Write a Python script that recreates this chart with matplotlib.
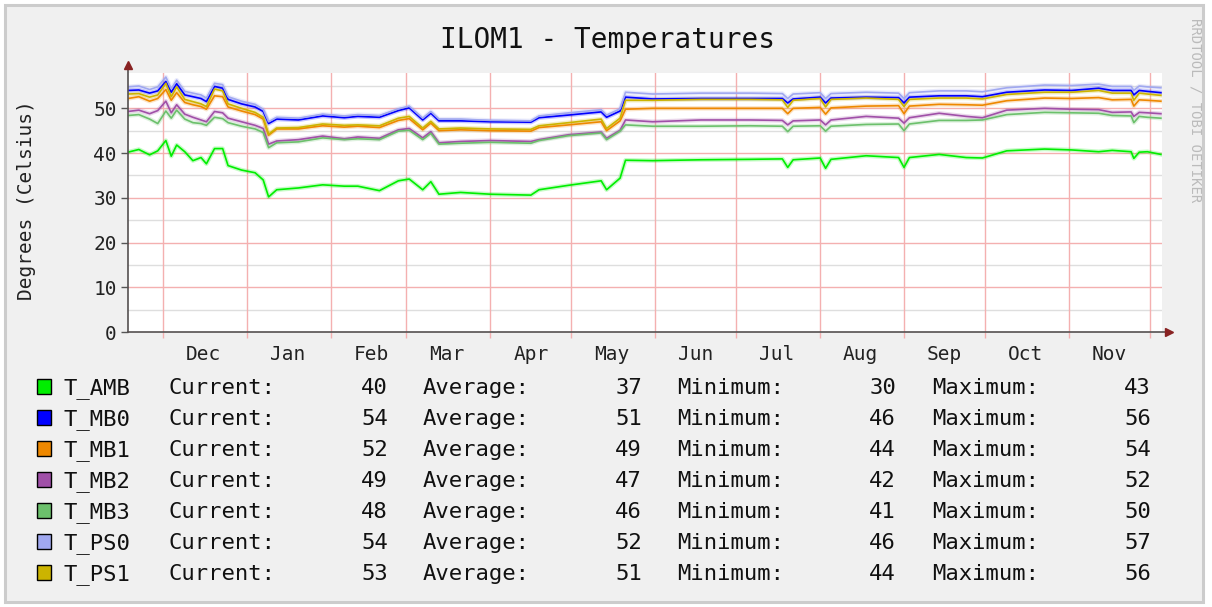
import matplotlib
matplotlib.use('Agg')
import matplotlib.pyplot as plt
import matplotlib.dates as mdates
from matplotlib.patches import Rectangle
import numpy as np

plt.rcParams['font.family'] = 'DejaVu Sans Mono'

W, H = 1212, 607

# ── data (days since 2009-11-18, degrees C) ─────────────────────────────────
start = np.datetime64('2009-11-18')
days = [0, 4, 8, 11, 14, 16, 18, 21, 24, 27, 29, 32, 35, 37, 42, 47, 50, 52,
        55, 63, 72, 80, 85, 93, 100, 104, 109, 112, 115, 123, 134, 149, 152,
        163, 175, 177, 182, 184, 194, 212, 230, 242, 244, 246, 256, 258, 260,
        273, 285, 287, 289, 300, 310, 316, 325, 339, 349, 359, 364, 371, 372,
        374, 377, 382]

t_amb = [40.2, 40.8, 39.6, 40.5, 42.8, 39.3, 41.8, 40.3, 38.3, 39.0, 37.6,
         41.0, 41.0, 37.2, 36.2, 35.6, 34.0, 30.2, 31.8, 32.2, 32.9, 32.6,
         32.6, 31.6, 33.8, 34.2, 31.8, 33.6, 30.8, 31.2, 30.8, 30.6, 31.8,
         32.8, 33.8, 31.8, 34.4, 38.4, 38.3, 38.5, 38.6, 38.7, 36.8, 38.5,
         38.9, 36.6, 38.6, 39.4, 39.0, 36.8, 39.0, 39.7, 39.0, 38.9, 40.5,
         40.9, 40.7, 40.3, 40.6, 40.3, 38.8, 40.2, 40.3, 39.7]
t_mb0 = [54.0, 54.1, 53.4, 53.9, 56.0, 53.6, 55.5, 53.0, 52.6, 52.2, 51.5,
         54.9, 54.5, 52.0, 51.0, 50.3, 49.3, 46.6, 47.6, 47.4, 48.3, 47.9,
         48.2, 48.0, 49.5, 50.1, 47.4, 48.9, 47.2, 47.2, 47.0, 46.9, 47.9,
         48.5, 49.2, 48.0, 49.4, 52.5, 52.1, 52.2, 52.2, 52.2, 51.2, 52.1,
         52.5, 51.2, 52.3, 52.5, 52.4, 51.2, 52.5, 52.8, 52.8, 52.6, 53.6,
         54.1, 54.0, 54.5, 54.0, 54.0, 53.0, 54.0, 53.8, 53.5]
t_mb1 = [52.2, 52.6, 51.6, 52.2, 54.2, 51.8, 53.5, 51.3, 50.8, 50.4, 49.8,
         52.8, 52.6, 50.3, 49.4, 48.6, 47.6, 44.0, 45.4, 45.4, 46.1, 45.8,
         46.0, 45.7, 47.3, 47.7, 45.2, 46.7, 45.0, 45.2, 45.0, 44.9, 45.7,
         46.3, 47.0, 45.0, 47.2, 49.8, 50.0, 50.0, 50.0, 50.0, 48.8, 50.0,
         50.2, 48.7, 50.1, 50.5, 50.6, 48.8, 50.5, 50.9, 50.8, 50.7, 51.7,
         52.3, 52.2, 52.4, 51.9, 52.0, 50.5, 51.9, 51.8, 51.6]
t_mb2 = [49.3, 49.6, 48.8, 49.5, 51.6, 49.0, 50.8, 48.7, 48.0, 47.4, 47.0,
         49.3, 49.0, 47.8, 47.0, 46.2, 45.5, 42.0, 42.7, 43.0, 43.8, 43.2,
         43.6, 43.3, 45.2, 45.5, 43.4, 44.8, 42.3, 42.6, 42.8, 42.6, 43.0,
         44.1, 44.7, 43.3, 45.1, 47.4, 47.0, 47.4, 47.4, 47.3, 46.3, 47.2,
         47.4, 46.3, 47.4, 48.2, 47.8, 46.7, 47.9, 48.9, 48.2, 47.9, 49.6,
         50.0, 49.8, 49.7, 49.1, 49.2, 48.2, 49.1, 49.0, 48.8]
t_mb3 = [48.4, 48.6, 47.6, 46.6, 49.4, 47.8, 49.6, 47.6, 46.8, 46.6, 46.2,
         48.0, 47.7, 46.8, 46.0, 45.4, 44.6, 41.2, 42.3, 42.5, 43.4, 43.0,
         43.2, 43.0, 44.9, 45.1, 43.0, 44.4, 42.0, 42.2, 42.4, 42.2, 42.8,
         43.9, 44.5, 43.0, 44.9, 46.3, 46.0, 46.0, 46.1, 46.0, 44.8, 46.0,
         46.1, 44.9, 46.0, 46.4, 46.5, 45.0, 46.5, 47.3, 47.3, 47.4, 48.6,
         49.1, 49.0, 48.9, 48.4, 48.3, 46.8, 48.2, 48.0, 47.8]
t_ps0 = [54.8, 55.0, 54.2, 54.8, 57.0, 54.4, 56.3, 53.8, 53.4, 53.0, 52.3,
         55.6, 55.3, 52.6, 51.6, 50.9, 49.8, 47.0, 48.0, 47.8, 48.7, 48.3,
         48.6, 48.4, 49.9, 50.5, 47.8, 49.3, 47.6, 47.6, 47.3, 47.2, 48.3,
         49.0, 49.7, 48.5, 49.9, 53.6, 53.2, 53.4, 53.4, 53.3, 52.2, 53.2,
         53.5, 52.2, 53.3, 53.6, 53.4, 52.2, 53.5, 53.9, 53.9, 53.7, 54.6,
         55.2, 55.1, 55.4, 54.9, 54.9, 54.0, 55.0, 54.8, 54.6]
t_ps1 = [53.2, 53.3, 52.5, 53.0, 55.6, 52.6, 54.8, 52.0, 51.5, 51.0, 50.4,
         54.3, 53.9, 51.0, 50.0, 49.1, 48.0, 44.2, 45.6, 45.7, 46.5, 46.2,
         46.3, 46.1, 47.8, 48.2, 45.6, 47.1, 45.4, 45.6, 45.4, 45.3, 46.1,
         46.8, 47.6, 45.5, 47.8, 51.8, 51.8, 52.0, 52.0, 51.9, 50.2, 51.8,
         52.2, 50.3, 52.0, 52.3, 52.0, 50.4, 52.0, 52.3, 52.3, 52.1, 53.1,
         53.6, 53.6, 54.0, 53.4, 53.4, 51.8, 53.4, 53.2, 52.9]

names    = ['T_AMB', 'T_MB0', 'T_MB1', 'T_MB2', 'T_MB3', 'T_PS0', 'T_PS1']
series   = [t_amb, t_mb0, t_mb1, t_mb2, t_mb3, t_ps0, t_ps1]
colors   = ['#00ee00', '#0000ff', '#ee8800', '#a050a8', '#6cc06c', '#a0a8f0', '#ccb400']
current  = [40, 54, 52, 49, 48, 54, 53]
average  = [37, 51, 49, 47, 46, 52, 51]
minimum  = [30, 46, 44, 42, 41, 46, 44]
maximum  = [43, 56, 54, 52, 50, 57, 56]

t = start + np.array(days).astype('timedelta64[D]')
t_end = np.datetime64('2009-12-05T10:00') + np.timedelta64(365, 'D')

# ── figure ───────────────────────────────────────────────────────────────────
fig = plt.figure(figsize=(W / 100, H / 100), dpi=100, facecolor='white')
fig.add_artist(Rectangle((5 / W, 5 / H), 1198 / W, 597 / H, transform=fig.transFigure,
                         facecolor='#f0f0f0', edgecolor='#cccccc', lw=2.2, zorder=-10))

ax = fig.add_axes([128 / W, 1 - 332 / H, 1034 / W, 259 / H])
ax.set_facecolor('white')

red_grid = '#f4b0b0'
gray_grid = '#dedede'
for v in range(5, 60, 10):
    ax.axhline(v, color=gray_grid, lw=1, zorder=1)
for v in range(10, 60, 10):
    ax.axhline(v, color=red_grid, lw=1, zorder=1)
ax.xaxis.set_major_locator(mdates.MonthLocator())
ax.grid(True, axis='x', which='major', color=red_grid, lw=1, zorder=1)

for vals, c in zip(series, colors):
    ax.plot(t, vals, color=c, lw=3.2, alpha=0.22, solid_joinstyle='round', zorder=3)
    ax.plot(t, vals, color=c, lw=1.2, zorder=4)

ax.set_xlim(start, t_end)
ax.set_ylim(0, 57.9)
ax.set_yticks(range(0, 60, 10))

ax.xaxis.set_minor_locator(mdates.MonthLocator(bymonthday=16))
ax.xaxis.set_major_formatter(plt.NullFormatter())
ax.xaxis.set_minor_formatter(mdates.DateFormatter('%b'))
ax.tick_params(axis='x', which='major', length=4.5, color=red_grid, width=1)
ax.tick_params(axis='x', which='minor', length=0, pad=9, labelsize=14, labelcolor='#222222')
ax.tick_params(axis='y', length=5, width=1, color='#555555', pad=3,
               labelsize=14, labelcolor='#222222')

for s in ax.spines.values():
    s.set_visible(False)

axis_c = '#555050'
arrow_c = '#882222'
ax.plot([0, 0], [0, 1.03], transform=ax.transAxes, color=axis_c, lw=1.2, clip_on=False, zorder=5)
ax.plot([0, 1.006], [0, 0], transform=ax.transAxes, color=axis_c, lw=1.2, clip_on=False, zorder=5)
ax.plot(0, 1.032, marker='^', ms=6, color=arrow_c, transform=ax.transAxes, clip_on=False, zorder=6)
ax.plot(1.007, 0, marker='>', ms=6, color=arrow_c, transform=ax.transAxes, clip_on=False, zorder=6)

# ── texts ────────────────────────────────────────────────────────────────────
def fx(x):
    return x / W

def fy(y):
    return 1 - y / H

fig.text(fx(607), fy(48), 'ILOM1 - Temperatures', ha='center', va='baseline',
         fontsize=20, color='#111111')
fig.text(fx(27), fy(200), 'Degrees (Celsius)', rotation=90, ha='center', va='center',
         fontsize=14, color='#222222')
fig.text(fx(1195), fy(110), 'RRDTOOL / TOBI OETIKER', rotation=270, ha='center',
         va='center', fontsize=10, color='#bbbbbb')

for i, name in enumerate(names):
    yb = 394 + 31 * i
    fig.add_artist(Rectangle((fx(37), fy(yb)), 14 / W, 15 / H, transform=fig.transFigure,
                             facecolor=colors[i], edgecolor='black', lw=1.0))
    kw = dict(fontsize=16, va='baseline', color='#111111')
    fig.text(fx(64), fy(yb), name, ha='left', **kw)
    fig.text(fx(168), fy(yb), 'Current:', ha='left', **kw)
    fig.text(fx(388), fy(yb), f'{current[i]}', ha='right', **kw)
    fig.text(fx(423), fy(yb), 'Average:', ha='left', **kw)
    fig.text(fx(642), fy(yb), f'{average[i]}', ha='right', **kw)
    fig.text(fx(677), fy(yb), 'Minimum:', ha='left', **kw)
    fig.text(fx(896), fy(yb), f'{minimum[i]}', ha='right', **kw)
    fig.text(fx(932), fy(yb), 'Maximum:', ha='left', **kw)
    fig.text(fx(1151), fy(yb), f'{maximum[i]}', ha='right', **kw)

fig.savefig('out.png', dpi=100, facecolor=fig.get_facecolor())
